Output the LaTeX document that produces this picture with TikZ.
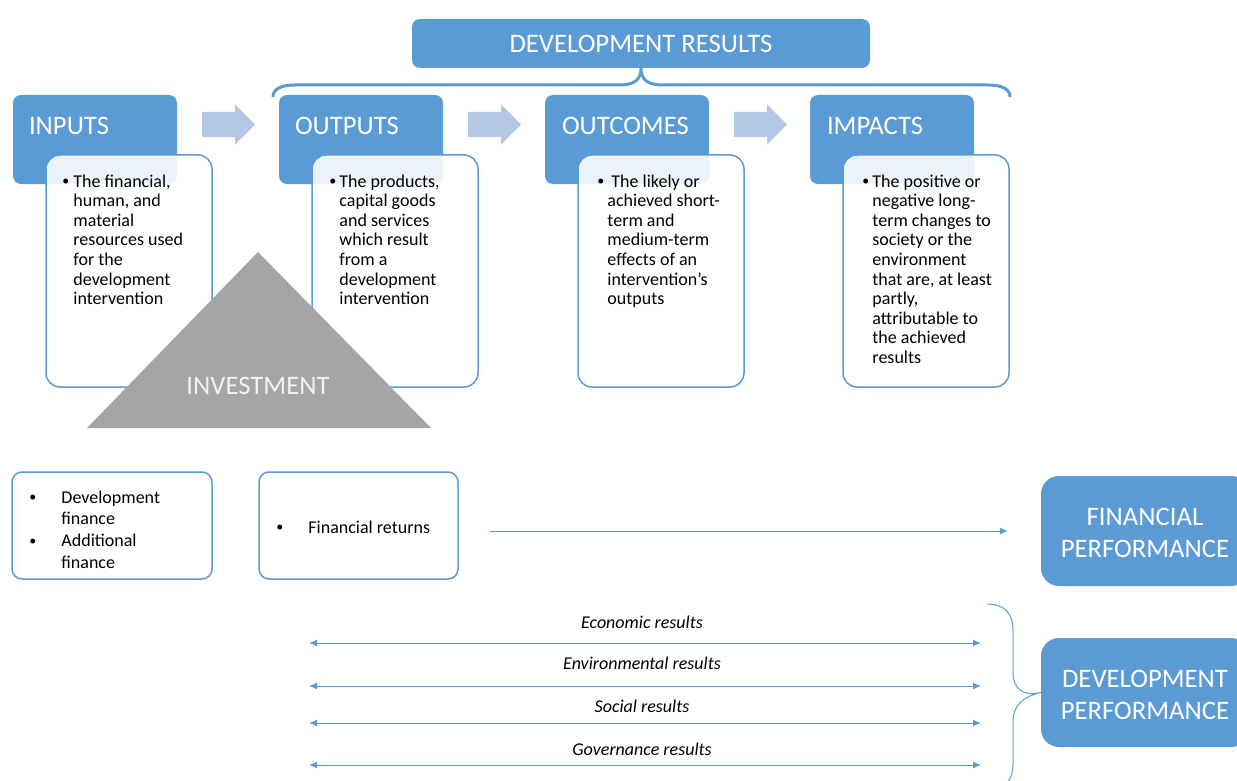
\documentclass[tikz,border=0pt]{standalone}
\usepackage{fontspec}
\setmainfont{Carlito}
\usetikzlibrary{positioning,shapes.arrows,arrows.meta}
\definecolor{resblue}{HTML}{5B9BD5}
\definecolor{flowblue}{HTML}{B4C7E7}
\definecolor{invgray}{HTML}{A5A5A5}
\newcommand{\titlefont}{\fontsize{26.7}{32}\selectfont}
\newcommand{\bodyfont}{\fontsize{18}{19.6}\selectfont}
\newcommand{\moneyfont}{\fontsize{18}{21.7}\selectfont}
\newcommand{\bul}{\raisebox{1.3pt}{\fontsize{14}{14}\selectfont\textbullet}}
\tikzset{
  title box/.style={fill=resblue, rounded corners=8pt, minimum width=164pt, minimum height=89pt, inner sep=0pt},
  title text/.style={text=white, font=\titlefont, inner sep=0pt},
  desc box/.style={draw=resblue, line width=1.5pt, fill=white, fill opacity=0.88, rounded corners=14pt, minimum width=166pt, minimum height=232pt, inner sep=0pt},
  desc text/.style={font=\bodyfont, inner sep=0pt, anchor=north west},
  flow arrow/.style={single arrow, fill=flowblue, inner xsep=0pt, inner ysep=12.5pt, single arrow head extend=7.5pt, single arrow head indent=0pt, minimum height=53pt, anchor=tail},
  money box/.style={draw=resblue, line width=1.5pt, rounded corners=10pt, minimum width=200pt, minimum height=107pt, inner sep=0pt},
  money text/.style={font=\moneyfont, inner sep=0pt, anchor=north west},
  perf box/.style={fill=resblue, rounded corners=18pt, text=white, font=\titlefont, align=center, minimum width=208pt, minimum height=110pt},
  result line/.style={draw=resblue, line width=1pt, >={Latex[length=8pt,width=7pt]}},
  result text/.style={font=\bodyfont\itshape, inner sep=0pt, anchor=base},
}

\begin{document}
\begin{tikzpicture}[x=1pt,y=-1pt]
\useasboundingbox (0,0) rectangle (1237,781);
\clip (0,0) rectangle (1237,781);
%the nodes
\node[title box, minimum width=458pt, minimum height=49pt, text=white, font=\titlefont] (devres) at (641,43.5) {DEVELOPMENT RESULTS};
\node[title box] (inp) at (95,139.5) {};
\node[title box] (outp) at (361,139.5) {};
\node[title box] (outc) at (627,139.5) {};
\node[title box] (imp) at (892,139.5) {};
\node[title text, below right=22pt and 16pt of inp.north west] (inpt) {INPUTS};
\node[title text, below right=22pt and 16pt of outp.north west] (outpt) {OUTPUTS};
\node[title text, below right=22pt and 17pt of outc.north west] (outct) {OUTCOMES};
\node[title text, below right=22pt and 17pt of imp.north west] (impt) {IMPACTS};
\node[desc box] (inpd) at (129,271) {};
\node[desc box] (outpd) at (395,271) {};
\node[desc box] (outcd) at (661,271) {};
\node[desc box] (impd) at (926,271) {};
\node[desc text, below right=19pt and 17pt of inpd.north west] (inpx) {\begin{tabular}{@{}p{11pt}@{}l@{}}
\bul & The financial,\\ & human, and\\ & material\\ & resources used\\ & for the\\ & development\\ & intervention\end{tabular}};
\node[desc text, below right=19pt and 18pt of outpd.north west] (outpx) {\begin{tabular}{@{}p{10pt}@{}l@{}}
\bul & The products,\\ & capital goods\\ & and services\\ & which result\\ & from a\\ & development\\ & intervention\end{tabular}};
\node[desc text, below right=19pt and 20pt of outcd.north west] (outcx) {\begin{tabular}{@{}p{10pt}@{}l@{}}
\bul & \hspace{4pt}The likely or\\ & achieved short-\\ & term and\\ & medium-term\\ & effects of an\\ & intervention’s\\ & outputs\end{tabular}};
\node[desc text, below right=19pt and 20pt of impd.north west] (impx) {\begin{tabular}{@{}p{10pt}@{}l@{}}
\bul & The positive or\\ & negative long-\\ & term changes to\\ & society or the\\ & environment\\ & that are, at least\\ & partly,\\ & attributable to\\ & the achieved\\ & results\end{tabular}};
\node[flow arrow] (arr1) at (202,124.5) {};
\node[flow arrow] (arr2) at (468,124.5) {};
\node[flow arrow] (arr3) at (734,124.5) {};
%investment triangle
\fill[invgray] (258,252) -- (431,428) -- (87,428) -- cycle;
\node[font=\titlefont, text=white!95!black, inner sep=0pt] (inv) at (258,386) {INVESTMENT};
%bottom part
\node[money box] (finbox) at (112,525.5) {};
\node[money box, minimum width=199pt] (retbox) at (358.5,525.5) {};
\node[money text, below right=16.5pt and 18pt of finbox.north west] (finx) {\begin{tabular}{@{}p{32pt}@{}l@{}}
\bul & Development\\ & finance\\ \bul & Additional\\ & finance\end{tabular}};
\node[money text, below right=46.5pt and 18pt of retbox.north west] (retx) {\begin{tabular}{@{}p{32pt}@{}l@{}}
\bul & Financial returns\end{tabular}};
\node[perf box] (finperf) at (1145,531) {\rule{0pt}{21pt}FINANCIAL\\PERFORMANCE};
\node[perf box, minimum height=109pt] (devperf) at (1145,692.5) {\rule{0pt}{22pt}DEVELOPMENT\\PERFORMANCE};
\node[result text] (econ) at (642,628.3) {Economic results};
\node[result text] (envi) at (642,669.3) {Environmental results};
\node[result text] (soci) at (642,712.7) {Social results};
\node[result text] (gove) at (642,755) {Governance results};
\coordinate (econL) at (309,643);
\coordinate (econR) at (981,643);
\coordinate (enviL) at (309,686);
\coordinate (enviR) at (981,686);
\coordinate (sociL) at (309,723);
\coordinate (sociR) at (981,723);
\coordinate (goveL) at (309,765);
\coordinate (goveR) at (981,765);
%drawings of vectors
\draw[result line, ->, shorten <=31pt, shorten >=33pt] (retbox.east |- finperf.west) -- (finperf.west);
\draw[result line, <->] (econL) -- (econR);
\draw[result line, <->] (enviL) -- (enviR);
\draw[result line, <->] (sociL) -- (sociR);
\draw[result line, <->] (goveL) -- (goveR);
%braces
\draw[resblue, line width=3pt] (273,97) .. controls (273,89) and (281,85) .. (295,85) -- (619,85) .. controls (634,85) and (641,80) .. (devres.south) .. controls (641,80) and (648,85) .. (663,85) -- (988,85) .. controls (1002,85) and (1010,89) .. (1010,97);
\draw[resblue, line width=1pt] (987,604) .. controls (1004,604) and (1013,613) .. (1013,630) -- (1013,672) .. controls (1013,688) and (1022,697) .. (devperf.west) .. controls (1022,697) and (1013,706) .. (1013,722) -- (1013,764) .. controls (1013,781) and (1004,790) .. (987,790);
\end{tikzpicture}
\end{document}
